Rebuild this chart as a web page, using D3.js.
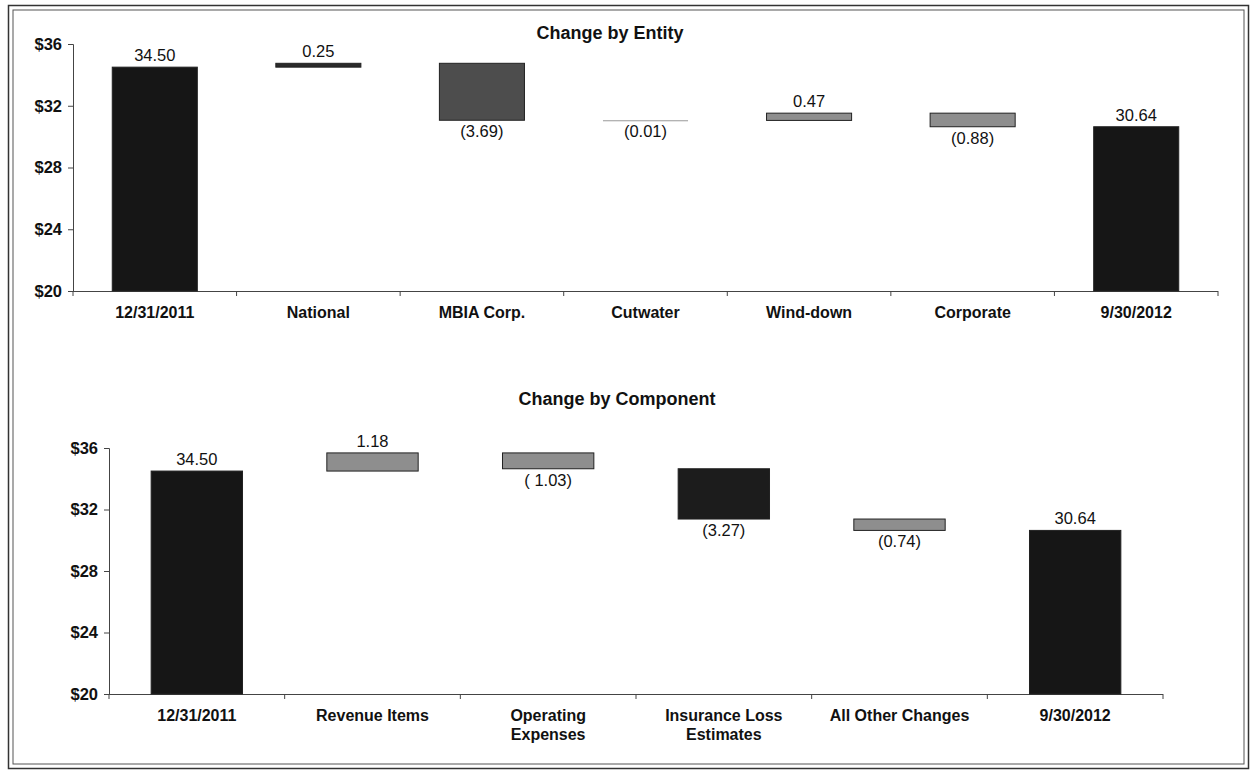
<!DOCTYPE html>
<html>
<head>
<meta charset="utf-8">
<script src="https://cdn.jsdelivr.net/npm/d3@7"></script>
<style>
  body { margin: 0; background: #fff; }
  svg { font-family: "Liberation Sans", Arial, sans-serif; }
  .tick text { font-weight: bold; }
</style>
</head>
<body>
<div id="chart"></div>
<script>
// Data
const entityCategories = ["12/31/2011", "National", "MBIA Corp.", "Cutwater", "Wind-down", "Corporate", "9/30/2012"]
const entityValues = [34.50, 0.25, -3.69, -0.01, 0.47, -0.88, 30.64]
const entityKinds = ["total", "change", "change", "change", "change", "change", "total"]
const entityLabels = ["34.50", "0.25", "(3.69)", "(0.01)", "0.47", "(0.88)", "30.64"]

const componentCategories = ["12/31/2011", "Revenue Items", "Operating|Expenses", "Insurance Loss|Estimates", "All Other Changes", "9/30/2012"]
const componentValues = [34.50, 1.18, -1.03, -3.27, -0.74, 30.64]
const componentKinds = ["total", "change", "change", "change", "change", "total"]
const componentLabels = ["34.50", "1.18", "( 1.03)", "(3.27)", "(0.74)", "30.64"]

const yTicks = [20, 24, 28, 32, 36]

// bar fills (styling, kept apart from the data)
const fills = {
  "total": "#161616",
  "MBIA Corp.": "#4d4d4d",
  "Insurance Loss|Estimates": "#1c1c1c",
  "National": "#2a2a2a",
  "Cutwater": "#999999"
}
const changeFill = "#8e8e8e"

const width = 1252, height = 774

const svg = d3.select('#chart')
  .append('svg')
  .attr('width', width)
  .attr('height', height)

// double frame
svg.append('rect')
  .attr('x', 8.5).attr('y', 5.5)
  .attr('width', 1240).attr('height', 763)
  .attr('fill', 'none').attr('stroke', '#333').attr('stroke-width', 1.5)
svg.append('rect')
  .attr('x', 13).attr('y', 10)
  .attr('width', 1231).attr('height', 754)
  .attr('fill', 'none').attr('stroke', '#555').attr('stroke-width', 1)

function waterfall(opts) {
  const { categories, values, kinds, labels, title } = opts

  // running start/end for each bar
  let level = 0
  const rows = categories.map((c, i) => {
    let lo, hi
    if (kinds[i] === 'total') {
      lo = 20; hi = values[i]; level = values[i]
    } else {
      const next = level + values[i]
      lo = Math.min(level, next); hi = Math.max(level, next)
      level = next
    }
    return { cat: c, value: values[i], kind: kinds[i], label: labels[i], lo, hi }
  })

  const x = d3.scaleBand()
    .domain(categories)
    .range([opts.x0, opts.x1])
    .paddingInner(0.48)
    .paddingOuter(0.24)

  const y = d3.scaleLinear()
    .domain([20, 36])
    .range([opts.yBottom, opts.yTop])

  const g = svg.append('g')

  // title
  g.append('text')
    .attr('x', opts.titleX)
    .attr('y', opts.titleY)
    .attr('text-anchor', 'middle')
    .style('font-weight', 'bold')
    .style('font-size', '18px')
    .attr('fill', '#111')
    .text(title)

  // y axis
  const yAxis = g.append('g')
    .attr('transform', `translate(${opts.x0},0)`)
    .call(d3.axisLeft(y).tickValues(yTicks).tickFormat(d => '$' + d).tickSize(5).tickPadding(6))
  yAxis.selectAll('text').style('font-size', '16.5px').attr('fill', '#111')
  yAxis.selectAll('line, path').attr('stroke', '#444')

  // x axis line + boundary ticks
  const step = x.step()
  const bounds = d3.range(categories.length + 1).map(i => opts.x0 + i * step)
  g.append('line')
    .attr('x1', opts.x0).attr('x2', opts.x0 + categories.length * step)
    .attr('y1', y(20) + 0.5).attr('y2', y(20) + 0.5)
    .attr('stroke', '#444')
  g.selectAll('line.xtick')
    .data(bounds)
    .join('line')
    .attr('class', 'xtick')
    .attr('x1', d => d).attr('x2', d => d)
    .attr('y1', y(20)).attr('y2', y(20) + 5)
    .attr('stroke', '#444')

  // category labels
  g.selectAll('text.cat')
    .data(rows)
    .join('text')
    .attr('class', 'cat')
    .attr('text-anchor', 'middle')
    .attr('transform', d => `translate(${x(d.cat) + x.bandwidth() / 2},${y(20) + 27})`)
    .style('font-weight', 'bold')
    .style('font-size', '16px')
    .attr('fill', '#111')
    .each(function (d) {
      d.cat.split('|').forEach((line, i) => {
        d3.select(this).append('tspan')
          .attr('x', 0)
          .attr('y', i * 19)
          .text(line)
      })
    })

  // bars
  g.selectAll('rect.bar')
    .data(rows)
    .join('rect')
    .attr('class', 'bar')
    .attr('x', d => x(d.cat))
    .attr('width', x.bandwidth())
    .attr('y', d => y(d.hi))
    .attr('height', d => Math.max(1, y(d.lo) - y(d.hi)))
    .attr('fill', d => d.kind === 'total' ? fills.total : (fills[d.cat] || changeFill))
    .attr('stroke', d => d.cat === 'Cutwater' ? 'none' : '#222')
    .attr('stroke-width', 1)

  // value labels: above for positive/total, below for negative
  g.selectAll('text.val')
    .data(rows)
    .join('text')
    .attr('class', 'val')
    .attr('text-anchor', 'middle')
    .attr('x', d => x(d.cat) + x.bandwidth() / 2)
    .attr('y', d => d.value >= 0 ? y(d.hi) - 6 : y(d.lo) + 17)
    .style('font-size', '16.5px')
    .attr('fill', '#111')
    .text(d => d.label)
}

waterfall({
  categories: entityCategories, values: entityValues, kinds: entityKinds, labels: entityLabels,
  title: 'Change by Entity',
  x0: 73, x1: 1218, yTop: 44, yBottom: 291,
  titleX: 610, titleY: 39
})

waterfall({
  categories: componentCategories, values: componentValues, kinds: componentKinds, labels: componentLabels,
  title: 'Change by Component',
  x0: 109, x1: 1163, yTop: 448, yBottom: 694,
  titleX: 617, titleY: 405
})
</script>
</body>
</html>
